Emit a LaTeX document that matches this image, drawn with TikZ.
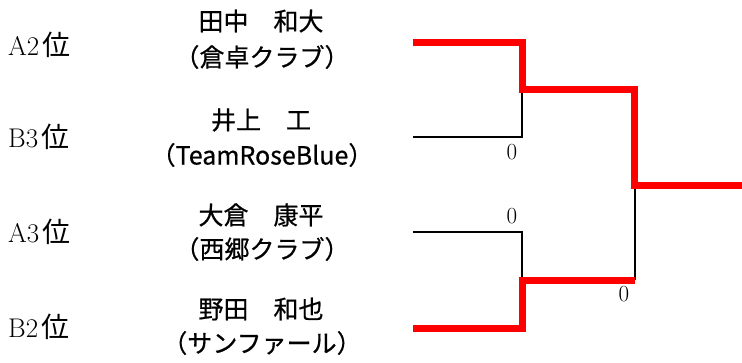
\documentclass[tikz,border=0pt]{standalone}
\usepackage{fontspec}
\newfontfamily\jp{Noto Sans CJK JP}
\newfontfamily\jpb[FakeBold=0.6]{Noto Sans CJK JP}
\begin{document}
\begin{tikzpicture}[x=1pt,y=-1pt,
  seed/.style={anchor=west,inner sep=0pt,font=\fontsize{27}{30}\selectfont},
  pname/.style={inner sep=0pt,font=\jpb\fontsize{25}{30}\selectfont},
  score/.style={inner sep=0pt,font=\fontsize{23}{26}\selectfont},
  win/.style={draw=red,line width=7pt,miter limit=10},
  lose/.style={draw=black,line width=2pt}]
\useasboundingbox (0,0) rectangle (742,362);
\newcommand{\kurai}{\hspace{3pt}{\jp\fontsize{28}{30}\selectfont 位}}
% seeds
\node[seed] (s1) at (8,45) {A2\kurai};
\node[seed] (s2) at (8,137) {B3\kurai};
\node[seed] (s3) at (8,232) {A3\kurai};
\node[seed] (s4) at (8,327) {B2\kurai};
% names
\node[pname] (p1a) at (261,21) {田中　和大};
\node[pname] (p1b) at (262,57) {（倉卓クラブ）};
\node[pname] (p2a) at (261,120) {井上　工};
\node[pname] (p2b) at (262,155) {（TeamRoseBlue）};
\node[pname] (p3a) at (261,215) {大倉　康平};
\node[pname] (p3b) at (262,249) {（西郷クラブ）};
\node[pname] (p4a) at (261,309) {野田　和也};
\node[pname] (p4b) at (262,343) {（サンファール）};
% bracket points
\coordinate (e1) at (413,42);
\coordinate (e2) at (413,137);
\coordinate (e3) at (413,232);
\coordinate (e4) at (413,328);
\coordinate (m1) at (522,89);
\coordinate (m2) at (522,280);
\coordinate (f) at (634.5,185);
\coordinate (out) at (742,185);
% losing lines
\draw[lose] (e2) -| (m1);
\draw[lose] (e3) -| (m2);
\draw[lose] (f) -- (f |- m2);
% winning lines
\draw[win] (e1) -| (m1) -- (m1 -| f) -- (f) -- (out);
\draw[win] (e4) -| (m2) -- (m2 -| f);
% scores
\node[score] (c1) at (512,152) {0};
\node[score] (c2) at (512,216) {0};
\node[score] (c3) at (624,294) {0};
\end{tikzpicture}
\end{document}
